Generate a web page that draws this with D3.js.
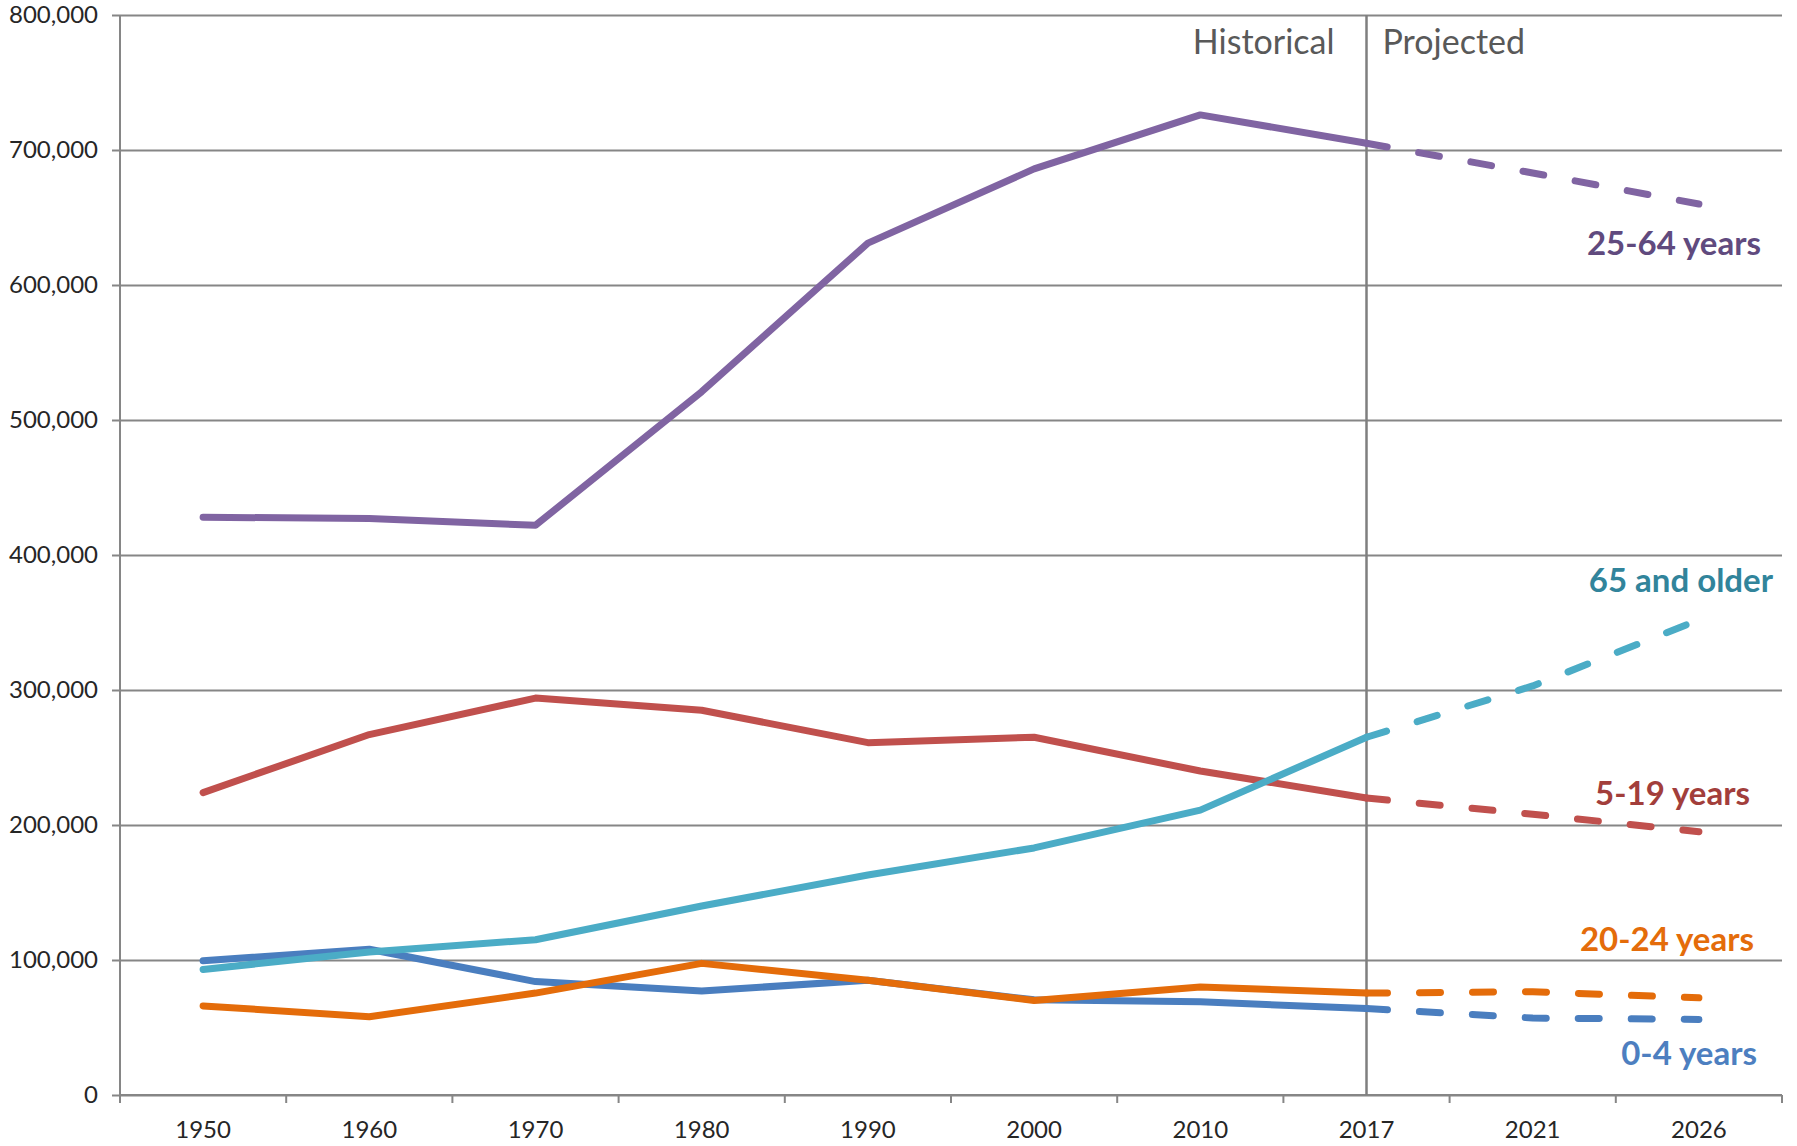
<!DOCTYPE html>
<html>
<head>
<meta charset="utf-8">
<script src="https://cdn.jsdelivr.net/npm/d3@7"></script>
<style>
  html, body { margin: 0; padding: 0; background: #fff; }
  svg { display: block; font-family: Lato, "Open Sans", sans-serif; }
</style>
</head>
<body>
<svg id="chart" width="1797" height="1146"></svg>
<script>
var years = ['1950', '1960', '1970', '1980', '1990', '2000', '2010', '2017', '2021', '2026'];
var yTicks = [0, 100000, 200000, 300000, 400000, 500000, 600000, 700000, 800000];

// index of the last historical year (2017); projection runs from here on
var splitIndex = 7;

var ages0to4 = [99500, 108000, 84000, 77000, 85000, 70500, 69000, 64000, 57000, 56000];
var ages5to19 = [224000, 267000, 294000, 285000, 261000, 265000, 240000, 220000, 208000, 195000];
var ages20to24 = [66000, 58000, 75500, 97500, 85000, 70000, 80000, 75500, 76500, 72000];
var ages25to64 = [428000, 427000, 422000, 521000, 631000, 686000, 726000, 705000, 683000, 660000];
var ages65plus = [93000, 106000, 115000, 140000, 163000, 183000, 211000, 265000, 303000, 352000];

var seriesNames = ['0-4 years', '5-19 years', '20-24 years', '25-64 years', '65 and older'];

var margin = {left: 120, right: 15, top: 15, bottom: 51},
    width = 1797 - margin.left - margin.right,
    height = 1146 - margin.top - margin.bottom,
    gridColor = '#868686',
    lineWidth = 7;

var series = [
    {name: seriesNames[0], values: ages0to4, line: '#4a7ebf', text: '#4d7fc0', labelX: 1757, labelY: 1065},
    {name: seriesNames[1], values: ages5to19, line: '#c0504d', text: '#a23e3b', labelX: 1750, labelY: 805},
    {name: seriesNames[2], values: ages20to24, line: '#e46c0a', text: '#e46c0a', labelX: 1754, labelY: 951},
    {name: seriesNames[3], values: ages25to64, line: '#8064a2', text: '#604a7e', labelX: 1761, labelY: 255},
    {name: seriesNames[4], values: ages65plus, line: '#4bacc6', text: '#31849b', labelX: 1773, labelY: 592}
];

var svg = d3.select('#chart');
var g = svg.append('g').attr('transform', 'translate(' + margin.left + ',' + margin.top + ')');

var x = d3.scaleBand().domain(years).range([0, width]).padding(0);
var y = d3.scaleLinear().domain([0, 800000]).range([height, 0]);

// horizontal gridlines + y labels
var yAxis = g.append('g')
    .call(d3.axisLeft(y).tickValues(yTicks).tickSize(-width).tickSizeOuter(0).tickPadding(22).tickFormat(d3.format(',')));
yAxis.select('.domain').remove();
yAxis.selectAll('.tick line')
    .attr('x1', -8)
    .attr('stroke', gridColor)
    .attr('stroke-width', 2);
yAxis.selectAll('.tick text')
    .attr('fill', '#262626')
    .style('font-size', '24px')
    .style('font-family', 'Lato, sans-serif');

// y axis line
g.append('line')
    .attr('x1', 0).attr('x2', 0)
    .attr('y1', 0).attr('y2', height)
    .attr('stroke', gridColor)
    .attr('stroke-width', 2);

// x axis: labels centred on each band, tick marks on the band edges
var xAxis = g.append('g')
    .attr('transform', 'translate(0,' + height + ')')
    .call(d3.axisBottom(x).tickSize(0).tickPadding(26));
xAxis.select('.domain').remove();
xAxis.selectAll('.tick text')
    .attr('fill', '#262626')
    .style('font-size', '24px')
    .style('font-family', 'Lato, sans-serif');

g.append('line')
    .attr('x1', 0).attr('x2', width)
    .attr('y1', height).attr('y2', height)
    .attr('stroke', gridColor)
    .attr('stroke-width', 2);

var edges = years.map(function(d) { return x(d); }).concat([width]);
g.selectAll('.edgeTick').data(edges).enter()
    .append('line')
        .attr('class', 'edgeTick')
        .attr('x1', function(d) { return d; })
        .attr('x2', function(d) { return d; })
        .attr('y1', height)
        .attr('y2', height + 8)
        .attr('stroke', gridColor)
        .attr('stroke-width', 2);

// historical / projected divider
var splitX = x(years[splitIndex]) + x.bandwidth() / 2;
g.append('line')
    .attr('x1', splitX).attr('x2', splitX)
    .attr('y1', 0).attr('y2', height)
    .attr('stroke', '#7f7f7f')
    .attr('stroke-width', 2.5);

g.append('text')
    .attr('x', splitX - 32)
    .attr('y', 39)
    .attr('text-anchor', 'end')
    .attr('fill', '#595959')
    .style('font-size', '34px')
    .text('Historical');

g.append('text')
    .attr('x', splitX + 16)
    .attr('y', 39)
    .attr('fill', '#595959')
    .style('font-size', '34px')
    .text('Projected');

var line = d3.line()
    .x(function(d) { return x(d.year) + x.bandwidth() / 2; })
    .y(function(d) { return y(d.value); });

series.forEach(function(s) {
    var pts = s.values.map(function(v, i) { return {year: years[i], value: v}; });

    g.append('path')
        .datum(pts.slice(0, splitIndex + 1))
        .attr('d', line)
        .attr('fill', 'none')
        .attr('stroke', s.line)
        .attr('stroke-width', lineWidth)
        .attr('stroke-linejoin', 'round')
        .attr('stroke-linecap', 'round');

    g.append('path')
        .datum(pts.slice(splitIndex))
        .attr('d', line)
        .attr('fill', 'none')
        .attr('stroke', s.line)
        .attr('stroke-width', lineWidth)
        .attr('stroke-linejoin', 'round')
        .attr('stroke-linecap', 'round')
        .attr('stroke-dasharray', '21,32');
});

// series labels
svg.selectAll('.seriesLabel').data(series).enter()
    .append('text')
        .attr('class', 'seriesLabel')
        .attr('x', function(d) { return d.labelX; })
        .attr('y', function(d) { return d.labelY; })
        .attr('text-anchor', 'end')
        .attr('fill', function(d) { return d.text; })
        .style('font-size', '33px')
        .style('font-weight', 'bold')
        .text(function(d) { return d.name; });
</script>
</body>
</html>
